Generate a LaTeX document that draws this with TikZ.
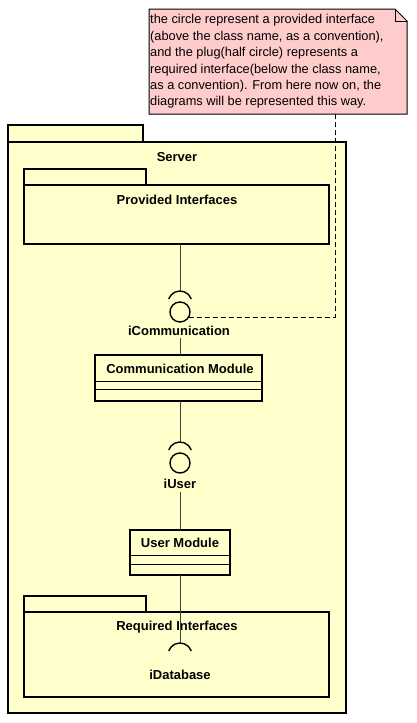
\documentclass[tikz,border=0pt]{standalone}
\usepackage{fontspec}
\setmainfont{Liberation Sans}
\definecolor{pkgyellow}{HTML}{FFFFCC}
\definecolor{notepink}{HTML}{FFCCCC}
\begin{document}
\begin{tikzpicture}[x=1pt,y=-1pt,
  pkg/.style={draw=black, line width=1.6pt, fill=pkgyellow, inner sep=0pt, outer sep=0pt},
  classbox/.style={draw=black, line width=1.6pt, fill=pkgyellow, inner sep=0pt, outer sep=0pt},
  conn/.style={draw=black!75, line width=0.9pt},
  lbl/.style={font=\bfseries\fontsize{13}{15}\selectfont, inner sep=0pt},
  ball/.style={circle, draw=black, line width=1.4pt, minimum size=20pt, inner sep=0pt, outer sep=0pt},
  sockarc/.style={draw=black, line width=1.4pt},
  comp/.style={draw=black, line width=0.9pt},
]
\useasboundingbox[fill=white] (0,0) rectangle (417,723);

% ---------- note ----------
\path[draw=black, fill=notepink, line width=1pt]
  (149,9) -- (395,9) -- (407,21) -- (407,114) -- (149,114) -- cycle;
\draw[line width=1pt] (395,9) -- (395,21) -- (407,21);
\node[anchor=north west, inner sep=0pt, align=left,
      font=\fontsize{12.8}{16.4}\selectfont] (notetext) at (150,14.5)
  {the circle represent a provided interface\\
   (above the class name, as a convention),\\
   and the plug(half circle) represents a\\
   required interface(below the class name,\\
   as a convention). From here now on, the\\
   diagrams will be represented this way.};
\coordinate (notec) at (335,114);

% ---------- Server package ----------
\node[pkg, anchor=north west, minimum width=135pt, minimum height=17pt] (servertab) at (8,125) {};
\node[pkg, anchor=north west, minimum width=338pt, minimum height=571pt] (server) at (8,142) {};
\node[lbl] (serverlbl) at (177,157) {Server};

% ---------- Provided Interfaces ----------
\node[pkg, anchor=north west, minimum width=122pt, minimum height=16pt] (provtab) at (24,169) {};
\node[pkg, anchor=north west, minimum width=305pt, minimum height=59pt] (prov) at (24,185) {};
\node[lbl] (provlbl) at (177,200) {Provided Interfaces};

% ---------- iCommunication ----------
\node[ball] (ball1) at (180,312) {};
\coordinate (sock1) at (180,291);
\draw[sockarc] ([shift={(200:12)}]180,303) arc[start angle=200, end angle=340, radius=12];
\draw[conn] (prov.south -| sock1) -- (sock1);
\node[lbl] (icomm) at (179,331) {iCommunication};
\draw[line width=1pt, dash pattern=on 5pt off 3pt] (ball1.-30) -| (notec);

% ---------- Communication Module ----------
\node[classbox, anchor=north west, minimum width=167pt, minimum height=46pt] (comm) at (95,355) {};
\node[lbl] (commlbl) at (180,369) {Communication Module};
\draw[comp] (comm.west |- 0,381) -- (comm.east |- 0,381);
\draw[comp] (comm.west |- 0,389) -- (comm.east |- 0,389);
\draw[conn] (sock1 |- 0,338) -- (comm.north -| sock1);

% ---------- iUser ----------
\node[ball] (ball2) at (180,463) {};
\coordinate (sock2) at (180,442);
\draw[sockarc] ([shift={(200:12)}]180,454) arc[start angle=200, end angle=340, radius=12];
\draw[conn] (comm.south -| sock2) -- (sock2);
\node[lbl] (iuser) at (180,484) {iUser};

% ---------- User Module ----------
\node[classbox, anchor=north west, minimum width=100pt, minimum height=45pt] (user) at (130,530) {};
\node[lbl] (userlbl) at (180,543) {User Module};
\draw[comp] (user.west |- 0,555) -- (user.east |- 0,555);
\draw[comp] (user.west |- 0,564) -- (user.east |- 0,564);
\draw[conn] (iuser.south |- 0,492) -- (user.north);

% ---------- Required Interfaces ----------
\node[pkg, anchor=north west, minimum width=122pt, minimum height=16pt] (reqtab) at (24,596) {};
\node[pkg, anchor=north west, minimum width=305pt, minimum height=85pt] (req) at (24,612) {};
\node[lbl] (reqlbl) at (177,627) {Required Interfaces};
\coordinate (sock3) at (180,643);
\draw[sockarc] ([shift={(200:12)}]180,655) arc[start angle=200, end angle=340, radius=12];
\draw[conn] (user.south) -- (sock3);
\node[lbl] (idb) at (180,675) {iDatabase};
\end{tikzpicture}
\end{document}
